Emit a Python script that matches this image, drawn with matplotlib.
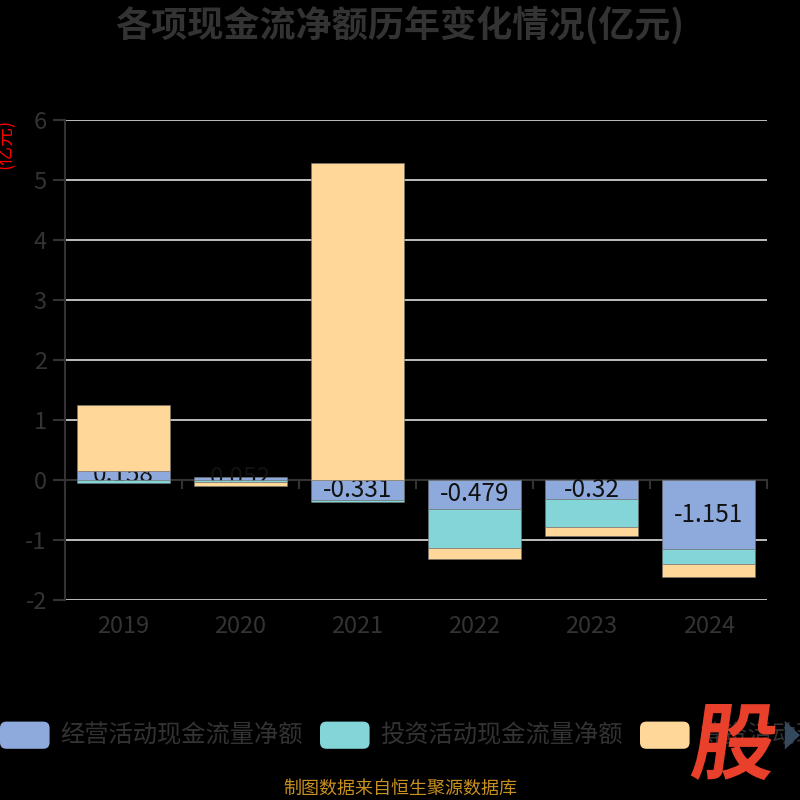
import matplotlib
matplotlib.use('Agg')
from matplotlib import pyplot as plt
from matplotlib.patches import FancyBboxPatch, Polygon, PathPatch
from matplotlib.textpath import TextPath
from matplotlib.font_manager import FontProperties
from matplotlib.transforms import Affine2D, IdentityTransform
import numpy as np

plt.rcParams['font.family'] = ['Noto Sans CJK SC', 'DejaVu Sans']

years = ['2019', '2020', '2021', '2022', '2023', '2024']
operating = [0.158, 0.052, -0.331, -0.479, -0.32, -1.151]
investing = [-0.055, -0.04, -0.04, -0.65, -0.455, -0.255]
financing = [1.092, -0.055, 5.28, -0.18, -0.155, -0.205]
op_labels = ['0.158', '0.052', '-0.331', '-0.479', '-0.32', '-1.151']

series_names = ['经营活动现金流量净额', '投资活动现金流量净额', '筹资活动现金流量净额']
colors = ['#8eaadc', '#84d5d7', '#ffd899']

fig = plt.figure(figsize=(8, 8), dpi=100, facecolor='black')
ax = fig.add_axes([0.081, 0.25, 0.878, 0.60])
ax.set_facecolor('black')

x = np.arange(len(years))
pos_base = np.zeros(len(years))
neg_base = np.zeros(len(years))
for i, (vals, c) in enumerate(zip([operating, investing, financing], colors)):
    vals = np.array(vals)
    bottom = np.where(vals >= 0, pos_base, neg_base)
    ax.bar(x, vals, bottom=bottom, width=0.8, color=c, edgecolor='#777777',
           linewidth=0.4, zorder=3 + 2 * i)
    if i == 0:
        # labels sit under the later stacked segments, like the original
        for xi, b, v, lab in zip(x, bottom, vals, op_labels):
            ax.text(xi, b + v / 2, lab, ha='center', va='center', fontsize=17.5,
                    color='#111111', zorder=4)
    pos_base = pos_base + np.where(vals >= 0, vals, 0)
    neg_base = neg_base + np.where(vals < 0, vals, 0)

ax.set_xlim(-0.5, 5.5)
ax.set_ylim(-2, 6)
ax.set_yticks(range(-2, 7))
ax.set_yticklabels([str(v) for v in range(-2, 7)])
ax.set_xticks(x)
ax.set_xticklabels(years)

for v in range(-2, 7):
    if v != 0:
        ax.axhline(v, color='#cccccc', linewidth=1.3, zorder=1)
ax.axhline(0, color='#333333', linewidth=1.5, zorder=2)
for b in np.arange(-0.5, 6.0, 1.0):
    ax.plot([b, b], [0, -0.13], color='#333333', linewidth=1.5, zorder=2,
            clip_on=False)

for s in ['top', 'right', 'bottom']:
    ax.spines[s].set_visible(False)
ax.spines['left'].set_color('#333333')
ax.spines['left'].set_linewidth(1.5)
ax.tick_params(axis='y', colors='#333333', labelsize=17, length=9, width=1.5,
               pad=4)
ax.tick_params(axis='x', colors='#333333', labelsize=17, length=0, pad=11)

fig.text(0.5, 0.968, '各项现金流净额历年变化情况(亿元)', ha='center', va='center',
         fontsize=26, fontweight='bold', color='#333333')
fig.text(0.006, 0.82, '(亿元)', rotation=90, ha='center', va='center',
         fontsize=13.5, color='red')

# legend
legend_x = [0.0, 0.4, 0.8]
for lx, name, c in zip(legend_x, series_names, colors):
    box = FancyBboxPatch((lx, 0.064), 0.062, 0.034,
                         boxstyle='round,pad=0,rounding_size=0.008',
                         transform=fig.transFigure, facecolor=c,
                         edgecolor='none')
    fig.patches.append(box)
    fig.text(lx + 0.075, 0.081, name, ha='left', va='center', fontsize=17.5,
             color='#333333')

# watermark logo
tp = TextPath((0, 0), '股', size=100,
              prop=FontProperties(family='Noto Sans CJK SC', weight='black'))
ext = tp.get_extents()
sx = 80 / ext.width
sy = 76 / ext.height
tr = (Affine2D().translate(-ext.x0, -ext.y0).scale(sx, sy)
      .skew_deg(8, 0).translate(690, 20))
logo = PathPatch(tr.transform_path(tp), facecolor='#e8402a', edgecolor='none',
                 transform=IdentityTransform(), zorder=10)
fig.patches.append(logo)

tri = Polygon([[0.981, 0.063], [1.0, 0.081], [0.981, 0.099]],
              closed=True, transform=fig.transFigure, facecolor='#34495e',
              edgecolor='none', zorder=11)
fig.patches.append(tri)

fig.text(0.5, 0.014, '制图数据来自恒生聚源数据库', ha='center', va='center',
         fontsize=13, color='#c8901f')

fig.savefig('out.png', dpi=100, facecolor='black')
